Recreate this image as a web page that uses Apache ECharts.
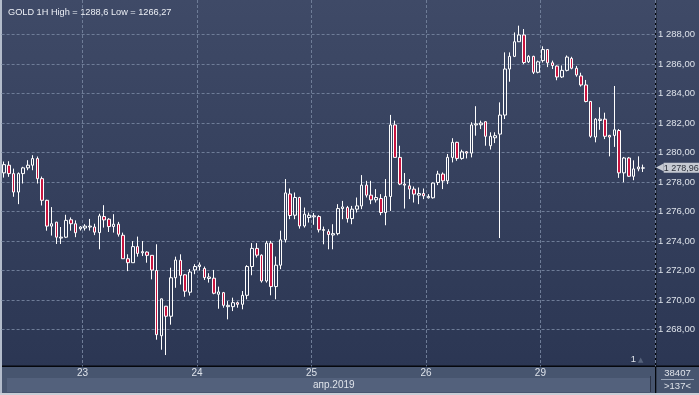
<!DOCTYPE html>
<html><head><meta charset="utf-8">
<script src="https://cdn.jsdelivr.net/npm/echarts@6/dist/echarts.min.js"></script>
<style>html,body{margin:0;padding:0;background:#2b3654;}#c{width:699px;height:395px;}</style>
</head><body><div id="c"></div>
<script>
// ---- data ----
const dayNames = ['22', '23', '24', '25', '26', '29'];
const dayHourFrom = [7, 0, 0, 0, 0, 0];
const dayHourTo = [23, 23, 23, 23, 23, 23];

const openP = [
1278.62,1279.14,1278.57,1277.32,1278.57,1278.96,1279.14,1279.59,1278.23,1276.76,
1275.01,1275.28,1274.20,1274.26,1275.44,1275.17,1274.83,1274.88,1274.95,1274.95,
1274.57,
1275.66,1275.48,1274.98,1275.14,1274.39,1272.80,1272.53,1273.62,1273.20,1273.25,
1273.03,1272.00,1267.58,1269.58,1268.90,1271.51,1272.69,1271.71,1270.53,
1272.04,1272.27,1272.14,1271.46,1271.48,1270.39,1270.50,1269.55,1269.55,1269.82,
1269.71,1270.32,1272.27,1273.50,1273.04,1271.29,1273.86,1270.91,1272.36,1274.08,
1277.19,
1275.75,1276.95,1275.02,1275.59,1275.64,1275.66,1274.72,1274.64,1274.41,1274.50,
1276.20,1276.27,1275.52,1276.16,1276.38,1277.79,1277.11,1276.79,1276.88,
1275.93,1277.02,1281.87,1279.67,1277.86,1277.74,1277.52,1277.11,1277.22,1276.93,
1276.93,1277.97,1278.54,1278.08,1279.67,1280.69,1279.60,1280.05,1279.96,1281.87,
1281.88,1282.09,1280.46,1281.00,1281.25,1282.54,1285.66,1286.52,1287.51,1287.97,
1286.15,1286.52,1285.44,1286.23,1286.98,1286.08,1285.86,1285.12,1285.57,
1286.38,1285.71,1285.19,1284.58,1283.46,1281.05,1282.17,1282.26,1281.16,1281.16,
1281.49,1278.62,1279.63,1278.39,1278.89,1278.94
];
const closeP = [
1279.18,1278.57,1277.32,1278.57,1278.96,1279.14,1279.59,1278.23,1276.76,1275.01,
1275.17,1274.26,1274.26,1275.40,1275.17,1274.56,1274.95,1275.01,1275.01,1274.60,
1275.70,
1275.43,1274.98,1275.14,1274.46,1272.80,1272.53,1273.62,1273.16,1273.28,1273.03,
1272.03,1267.65,1270.08,1268.90,1271.51,1272.71,1271.67,1270.60,1271.90,
1272.27,1272.38,1271.52,1271.56,1270.46,1270.55,1269.64,1269.64,1269.82,1269.71,
1270.32,1272.27,1273.50,1273.04,1271.29,1273.86,1270.91,1272.36,1274.08,1277.26,
1275.73,
1276.95,1275.02,1275.82,1275.75,1275.71,1274.76,1274.78,1274.44,1274.50,1276.20,
1276.31,1275.52,1276.16,1276.38,1277.79,1277.11,1276.79,1276.95,1275.93,
1277.02,1281.87,1279.67,1277.86,1277.79,1277.52,1277.18,1277.22,1277.06,1277.02,
1277.93,1278.54,1278.08,1279.67,1280.69,1279.60,1280.05,1279.96,1281.87,1281.94,
1282.00,1281.10,1281.10,1281.14,1282.54,1285.66,1286.52,1287.51,1287.97,1286.10,
1286.52,1285.44,1286.15,1286.98,1286.08,1285.90,1285.12,1285.57,1286.47,
1285.71,1285.26,1284.58,1283.46,1281.10,1282.26,1282.26,1281.10,1281.05,1281.54,
1278.62,1279.63,1278.39,1278.89,1279.02,1278.96
];
const lowP = [
1278.30,1278.35,1277.00,1276.50,1277.90,1278.80,1278.80,1277.90,1276.41,1274.70,
1274.37,1273.80,1273.80,1274.20,1274.70,1274.26,1274.71,1274.71,1274.71,1274.40,
1273.44,
1274.91,1274.61,1274.57,1274.30,1272.80,1271.96,1272.53,1272.94,1272.98,1272.53,
1271.40,1267.31,1266.63,1266.27,1268.33,1270.83,1271.05,1270.22,1270.30,
1271.75,1272.00,1271.36,1271.18,1270.39,1269.41,1269.48,1268.69,1269.25,1269.48,
1269.37,1270.05,1271.68,1272.88,1271.18,1271.18,1270.32,1270.05,1272.09,1273.90,
1275.48,
1275.48,1274.84,1274.91,1275.25,1275.10,1274.58,1273.78,1273.44,1273.44,1274.39,
1275.48,1275.25,1275.14,1275.93,1276.16,1276.95,1276.50,1276.61,1275.75,
1275.07,1276.04,1279.67,1277.79,1276.20,1276.84,1276.61,1276.50,1276.84,1276.88,
1276.88,1277.79,1277.52,1277.86,1279.33,1279.44,1279.51,1279.60,1279.67,1281.14,
1281.59,1280.46,1280.20,1280.64,1274.20,1282.27,1284.80,1286.47,1287.49,1285.99,
1286.07,1285.32,1285.37,1286.10,1285.79,1285.66,1284.90,1285.05,1285.50,
1285.64,1285.14,1284.47,1283.40,1281.00,1280.69,1281.54,1280.91,1279.74,1280.38,
1278.28,1277.98,1278.35,1278.12,1278.73,1278.68
];
const highP = [
1279.39,1279.41,1278.91,1278.65,1279.03,1279.48,1279.82,1279.73,1278.37,1276.80,
1276.30,1275.30,1274.95,1275.78,1275.60,1275.40,1275.01,1275.14,1275.50,1275.17,
1275.85,
1276.43,1275.55,1275.82,1275.30,1274.57,1273.10,1274.00,1274.30,1274.00,1273.30,
1273.05,1273.78,1270.10,1269.60,1272.19,1272.94,1273.10,1271.75,1272.10,
1272.43,1272.55,1272.27,1271.82,1272.04,1270.91,1270.55,1269.93,1270.16,1269.90,
1270.61,1272.36,1273.86,1273.86,1273.10,1274.01,1274.01,1272.95,1274.70,1278.20,
1277.56,
1277.29,1277.00,1276.27,1275.93,1275.90,1275.75,1274.98,1274.80,1275.14,1276.50,
1276.72,1276.38,1276.38,1276.95,1278.47,1278.08,1278.08,1277.52,1277.18,
1278.20,1282.55,1282.16,1280.46,1278.61,1278.20,1277.70,1277.63,1277.56,1277.18,
1277.97,1278.76,1278.65,1279.90,1280.97,1280.73,1280.19,1280.10,1282.05,1283.14,
1282.16,1282.10,1281.37,1281.37,1283.40,1286.79,1286.79,1288.14,1288.60,1288.37,
1286.60,1286.56,1286.23,1287.20,1287.00,1286.23,1285.90,1285.90,1286.58,
1286.49,1285.87,1285.41,1284.92,1283.50,1282.33,1283.07,1282.70,1281.20,1284.51,
1281.59,1279.70,1279.70,1279.47,1279.74,1279.18
];
const priceTicks = [1268, 1270, 1272, 1274, 1276, 1278, 1280, 1282, 1284, 1286, 1288];
const titleText = 'GOLD 1H High = 1288,6 Low = 1266,27';
const monthLabel = 'апр.2019';
const barsTotalLabel = '38407';
const barsVisibleLabel = '>137<';
const markerLabel = '1';

// ---- build ----
const categories = [];
dayNames.forEach((d, i) => {
  for (let h = dayHourFrom[i]; h <= dayHourTo[i]; h++) {
    categories.push(d + ' ' + String(h).padStart(2, '0') + ':00');
  }
});
const ohlc = openP.map((o, i) => [o, closeP[i], lowP[i], highP[i]]);
const lastClose = closeP[closeP.length - 1];

function fmtPrice(v) {
  const s = v.toFixed(2).replace('.', ',');
  return s.slice(0, 1) + ' ' + s.slice(1);
}
function isTick(v) {
  return priceTicks.some(t => Math.abs(t - v) < 1e-6);
}
const isDayStart = (i, v) => typeof v === 'string' && v.endsWith(' 00:00');

const FONT = 'Liberation Sans, Arial, sans-serif';
const chart = echarts.init(document.getElementById('c'), null, {renderer: 'canvas'});
const gridLine = {color: '#6e7c97', type: [3, 2], width: 1};

chart.setOption({
  animation: false,
  textStyle: {fontFamily: FONT},
  title: {
    text: titleText, left: 3, top: 3,
    textStyle: {fontSize: 9.2, fontWeight: 'normal', color: '#eceff5', fontFamily: FONT}
  },
  grid: {left: 1.6, right: 44, top: 0, bottom: 28.6},
  xAxis: {
    type: 'category', data: categories, boundaryGap: true, z: 10,
    axisLine: {show: false}, axisTick: {show: false},
    axisLabel: {
      interval: isDayStart, formatter: v => v.split(' ')[0],
      color: '#dde2ea', fontSize: 10, margin: 2, padding: [0, 5, 0, 0], fontFamily: FONT
    },
    splitLine: {show: true, interval: isDayStart, lineStyle: gridLine}
  },
  yAxis: {
    type: 'value', position: 'right', min: 1265.5, max: 1290.34, interval: 0.5,
    axisLine: {show: false}, axisTick: {show: false}, splitLine: {show: false},
    axisLabel: {
      formatter: v => isTick(v) ? fmtPrice(v) : '',
      color: '#dde2ea', fontSize: 9.5, margin: 3, fontFamily: FONT
    }
  },
  series: [{
    type: 'candlestick', data: ohlc, barWidth: 3, z: 10,
    itemStyle: {
      color: 'rgba(0,0,0,0)', color0: '#c8143f',
      borderColor: '#ffffff', borderColor0: '#ffffff', borderColorDoji: '#ffffff',
      borderWidth: 1
    },
    markLine: {
      silent: true, symbol: ['none', 'none'], animation: false,
      data: priceTicks.map(v => ({yAxis: v, lineStyle: gridLine, label: {show: false}})).concat([{
        yAxis: lastClose,
        lineStyle: {color: 'rgba(0,0,0,0)', width: 1, type: 'solid'},
        label: {
          show: true, position: 'end', distance: 1,
          formatter: '{a|◀}{b|' + fmtPrice(lastClose) + '}',
          rich: {
            a: {color: '#c6cad2', fontSize: 10, fontFamily: 'DejaVu Sans', padding: [0, 0, 0, 0]},
            b: {color: '#2a2f3a', backgroundColor: '#c6cad2', fontSize: 9, fontFamily: FONT, padding: [1, 1, 0, 0], lineHeight: 11}
          }
        }
      }])
    }
  }],
  graphic: [
    {type: 'rect', z: 1, silent: true, shape: {x: 0, y: 366, width: 699, height: 29}, style: {fill: '#47556f'}},
    {type: 'rect', z: 2, silent: true, shape: {x: 7, y: 378, width: 643, height: 14}, style: {fill: '#53617c'}},
    {type: 'rect', z: 3, silent: true, shape: {x: 650, y: 376, width: 1, height: 16}, style: {fill: '#2c3447'}},
    {type: 'rect', z: 3, silent: true, shape: {x: 0, y: 365.5, width: 699, height: 1.5}, style: {fill: '#05070c'}},
    {type: 'rect', z: 3, silent: true, shape: {x: 655, y: 0, width: 1.3, height: 393}, style: {fill: '#05070c'}},
    {type: 'rect', z: 4, silent: true, shape: {x: 0, y: 0, width: 2, height: 395}, style: {fill: '#b3bccb'}},
    {type: 'rect', z: 4, silent: true, shape: {x: 0, y: 393, width: 699, height: 2}, style: {fill: '#c9ced6'}},
    {type: 'rect', z: 4, silent: true, shape: {x: 661, y: 379, width: 33, height: 1}, style: {fill: '#9aa5b8'}},
    {type: 'text', z: 5, silent: true, x: 677.5, y: 373, style: {text: barsTotalLabel, align: 'center', verticalAlign: 'middle', fill: '#dfe3ea', font: '9.5px ' + FONT}},
    {type: 'text', z: 5, silent: true, x: 677.5, y: 386, style: {text: barsVisibleLabel, align: 'center', verticalAlign: 'middle', fill: '#dfe3ea', font: '9.5px ' + FONT}},
    {type: 'text', z: 5, silent: true, x: 313, y: 385, style: {text: monthLabel, align: 'left', verticalAlign: 'middle', fill: '#dfe3ea', font: '10px ' + FONT}},
    {type: 'text', z: 5, silent: true, x: 636, y: 359, style: {text: markerLabel, align: 'right', verticalAlign: 'middle', fill: '#dfe3ea', font: '9.5px ' + FONT}},
    {type: 'text', z: 5, silent: true, x: 638, y: 360, style: {text: '▲', align: 'left', verticalAlign: 'middle', fill: '#56637c', font: '7px DejaVu Sans'}}
  ]
});
</script>
<script>
document.body.style.background = 'linear-gradient(#3f4a67, #2a3552)';
</script>
</body></html>
